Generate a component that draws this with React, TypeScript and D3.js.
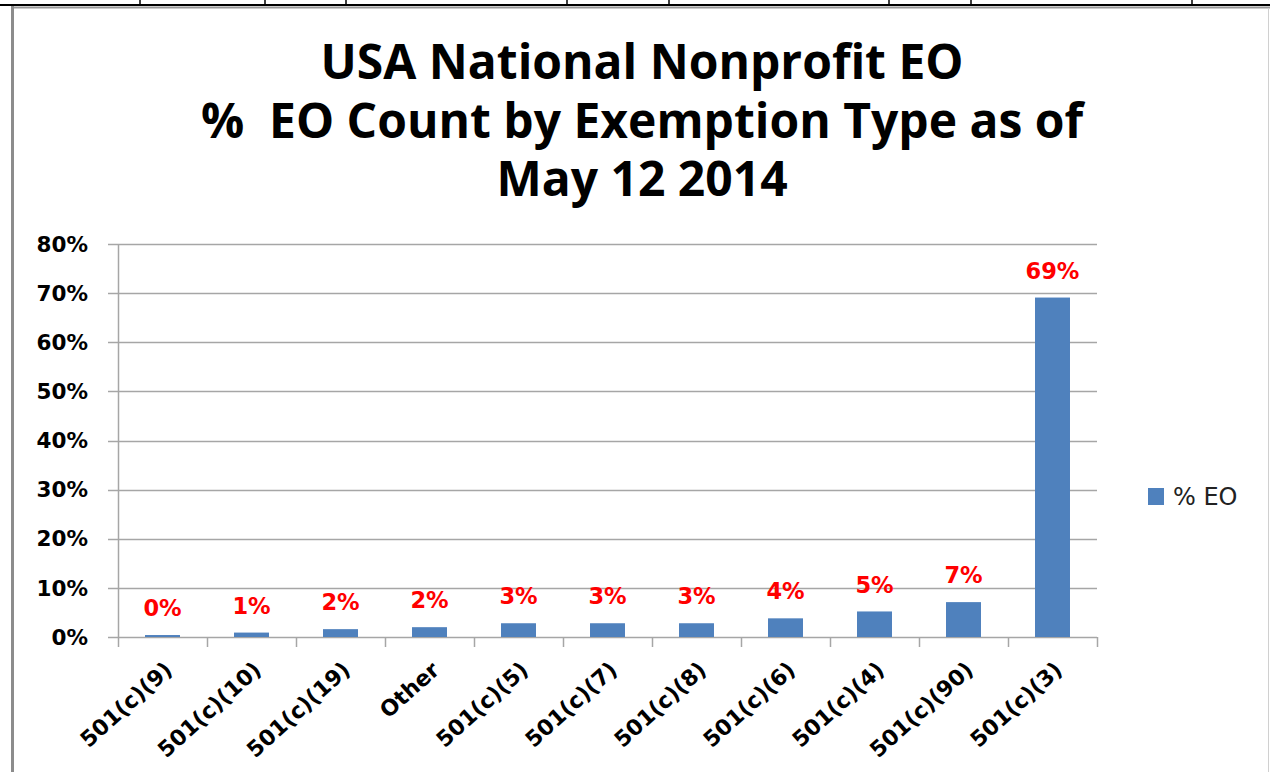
import React, { useEffect, useRef } from "react";
import * as d3 from "d3";

const categories = ["501(c)(9)", "501(c)(10)", "501(c)(19)", "Other", "501(c)(5)", "501(c)(7)", "501(c)(8)", "501(c)(6)", "501(c)(4)", "501(c)(90)", "501(c)(3)"];
const values = [0.004, 0.009, 0.016, 0.02, 0.028, 0.028, 0.028, 0.038, 0.052, 0.071, 0.691];
const labels = ["0%", "1%", "2%", "2%", "3%", "3%", "3%", "4%", "5%", "7%", "69%"];
const yTicks = [0, 0.1, 0.2, 0.3, 0.4, 0.5, 0.6, 0.7, 0.8];
const titleLines = ["USA National Nonprofit EO", "%  EO Count by Exemption Type as of", "May 12 2014"];
const seriesName = "% EO";
const sheetColumnBorders = [140, 265, 346, 567, 669, 889, 971, 1192];

const W = 1270;
const H = 772;
const BLUE = "#4F81BD";
const GRID = "#A6A6A6";
const AXISFONT = "'DejaVu Sans', Verdana, sans-serif";

export default function App() {
  const ref = useRef<SVGSVGElement>(null);

  useEffect(() => {
    const svg = d3.select(ref.current);
    svg.selectAll("*").remove();

    svg.append("rect").attr("width", W).attr("height", H).attr("fill", "#fff");

    // spreadsheet frame
    svg.append("line").attr("x1", 0).attr("x2", W).attr("y1", 5).attr("y2", 5).attr("stroke", "#000").attr("stroke-width", 2);
    svg.selectAll(".colb").data(sheetColumnBorders).enter().append("line")
      .attr("x1", (d) => d).attr("x2", (d) => d).attr("y1", 0).attr("y2", 5)
      .attr("stroke", "#000").attr("stroke-width", 1.5);
    svg.append("line").attr("x1", 12).attr("x2", W).attr("y1", 7.5).attr("y2", 7.5).attr("stroke", "#999").attr("stroke-width", 2);
    svg.append("line").attr("x1", 12.5).attr("x2", 12.5).attr("y1", 6).attr("y2", H).attr("stroke", "#8c8c8c").attr("stroke-width", 3);
    svg.append("line").attr("x1", 1268.5).attr("x2", 1268.5).attr("y1", 8).attr("y2", H).attr("stroke", "#d0d0d0").attr("stroke-width", 1);

    // title
    const tLines = [79, 138, 196];
    svg.selectAll(".title").data(titleLines).enter().append("text")
      .attr("x", 642).attr("y", (_, i) => tLines[i])
      .attr("text-anchor", "middle")
      .attr("font-family", "'Open Sans', Lato, sans-serif")
      .attr("font-weight", 700)
      .attr("font-size", 48)
      .attr("fill", "#000")
      .style("white-space", "pre")
      .text((d) => d);

    const x0 = 118, x1 = 1097, y0 = 637, y1 = 244;
    const x = d3.scaleBand<string>().domain(categories).range([x0, x1]).paddingInner(0.607).paddingOuter(0.3035);
    const xb = d3.scaleBand<string>().domain(categories).range([x0, x1]);
    const y = d3.scaleLinear().domain([0, 0.8]).range([y0, y1]);

    // gridlines
    svg.selectAll(".grid").data(yTicks).enter().append("line")
      .attr("x1", x0 - 10).attr("x2", x1)
      .attr("y1", (d) => Math.round(y(d)) + 0.5).attr("y2", (d) => Math.round(y(d)) + 0.5)
      .attr("stroke", GRID).attr("stroke-width", 1.5);
    // y axis line
    svg.append("line").attr("x1", x0 + 0.5).attr("x2", x0 + 0.5).attr("y1", y1).attr("y2", y0 + 10)
      .attr("stroke", GRID).attr("stroke-width", 1.5);
    // category ticks
    const tickXs = categories.map((c) => xb(c)! + xb.bandwidth());
    svg.selectAll(".ctick").data(tickXs).enter().append("line")
      .attr("x1", (d) => d + 0.5).attr("x2", (d) => d + 0.5).attr("y1", y0).attr("y2", y0 + 10)
      .attr("stroke", GRID).attr("stroke-width", 1.5);

    // y labels
    svg.selectAll(".ylab").data(yTicks).enter().append("text")
      .attr("x", 88).attr("y", (d) => y(d)).attr("dy", "0.36em")
      .attr("text-anchor", "end")
      .attr("font-family", AXISFONT).attr("font-weight", 700).attr("font-size", 21.5)
      .attr("fill", "#000")
      .text((d) => d3.format(".0%")(d));

    // bars
    svg.selectAll(".bar").data(values).enter().append("rect")
      .attr("x", (_, i) => x(categories[i])!)
      .attr("width", x.bandwidth())
      .attr("y", (d) => y(d))
      .attr("height", (d) => y0 - y(d))
      .attr("fill", BLUE);

    // data labels
    svg.selectAll(".dlab").data(values).enter().append("text")
      .attr("x", (_, i) => x(categories[i])! + x.bandwidth() / 2)
      .attr("y", (d) => y(d) - 27).attr("dy", "0.36em")
      .attr("text-anchor", "middle")
      .attr("font-family", AXISFONT).attr("font-weight", 700).attr("font-size", 22.5)
      .attr("fill", "#FF0000")
      .text((_, i) => labels[i]);

    // x labels
    svg.selectAll(".xlab").data(categories).enter().append("text")
      .attr("transform", (d) => `translate(${x(d)! + x.bandwidth() / 2 + 6},${y0 + 29}) rotate(-42)`)
      .attr("text-anchor", "end")
      .attr("dy", "0.36em")
      .attr("font-family", AXISFONT).attr("font-weight", 700).attr("font-size", 22)
      .attr("fill", "#000")
      .text((d) => d);

    // legend
    svg.append("rect").attr("x", 1148).attr("y", 488).attr("width", 16).attr("height", 17).attr("fill", BLUE);
    svg.append("text").attr("x", 1173).attr("y", 496.5).attr("dy", "0.36em")
      .attr("font-family", AXISFONT).attr("font-size", 24).attr("fill", "#222")
      .text(seriesName);
  }, []);

  return <svg ref={ref} width={W} height={H} style={{ position: "absolute", left: 0, top: 0, display: "block" }} />;
}
